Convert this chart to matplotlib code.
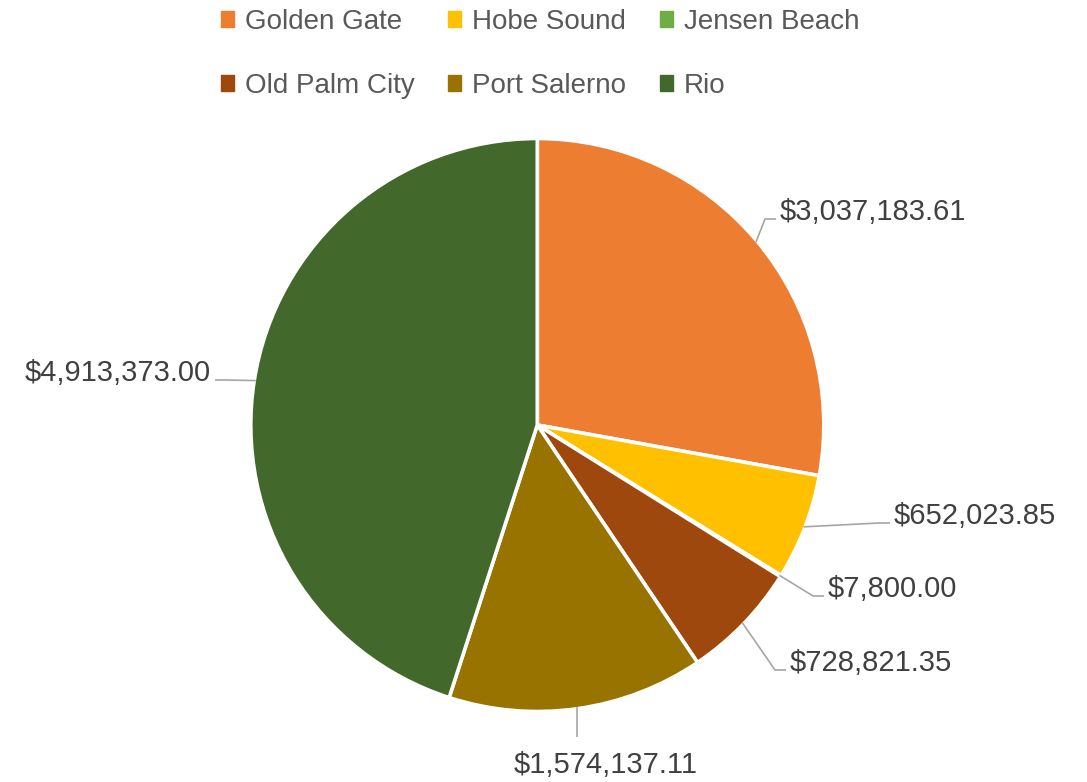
import matplotlib
matplotlib.use("Agg")
import matplotlib.pyplot as plt
from matplotlib.patches import Patch
import numpy as np

# ---- data ----
categories = ["Golden Gate", "Hobe Sound", "Jensen Beach", "Old Palm City", "Port Salerno", "Rio"]
values = [3037183.61, 652023.85, 7800.00, 728821.35, 1574137.11, 4913373.00]
colors = ["#ED7D31", "#FFC000", "#70AD47", "#9E480E", "#997300", "#43682B"]

# ---- layout (pixel coords, origin top-left) ----
W, H = 1087, 782
cx, cy, R = 537.3, 425.0, 286.5
# label anchor: (x, baseline y, horizontal alignment)
label_layout = [
    (780, 220, "left"),
    (894, 524, "left"),
    (828, 597, "left"),
    (790, 671, "left"),
    (606, 773, "center"),
    (211, 381, "right"),
]

plt.rcParams["font.family"] = ["Liberation Sans", "DejaVu Sans"]

fig = plt.figure(figsize=(W / 100, H / 100), dpi=100)
ax = fig.add_axes([0, 0, 1, 1])

wedges, _ = ax.pie(values, colors=colors, startangle=90, counterclock=False,
                   center=(cx, H - cy), radius=R,
                   wedgeprops=dict(edgecolor="white", linewidth=2.6))
ax.set_xlim(0, W)
ax.set_ylim(0, H)
ax.set_aspect("equal")
ax.axis("off")

lead_col = "#A6A6A6"
txt_col = "#404040"
for w, v, (tx, ty, ha) in zip(wedges, values, label_layout):
    mid = np.deg2rad((w.theta1 + w.theta2) / 2)
    sx = cx + (R - 1.5) * np.cos(mid)
    sy = (H - cy) + (R - 1.5) * np.sin(mid)
    Y = H - ty
    if ha == "left":
        ex, ey = tx - 4, Y + 1
        kx, ky = ex - 11, ey
    elif ha == "right":
        ex, ey = tx + 4, Y + 1
        kx, ky = ex + 11, ey
    else:
        ex, ey = sx, Y + 36
        kx, ky = ex, ey
    ax.plot([sx, kx, ex], [sy, ky, ey], color=lead_col, lw=1.2, solid_capstyle="butt")
    ax.text(tx, Y, f"${v:,.2f}", ha=ha, va="baseline", fontsize=21, color=txt_col)

# legend: row-major order (matplotlib fills columns first)
ncol = 3
nrow = int(np.ceil(len(categories) / ncol))
order = [r * ncol + c for c in range(ncol) for r in range(nrow)]
handles = [Patch(facecolor=colors[i], edgecolor=colors[i]) for i in order]
labels = [categories[i] for i in order]
leg = fig.legend(handles, labels, ncol=ncol, loc="upper center",
                 bbox_to_anchor=(0.497, 1.003), frameon=False, fontsize=20,
                 handlelength=0.47, handleheight=0.47, handletextpad=0.4,
                 columnspacing=1.2, labelspacing=1.37, borderaxespad=0)
for t in leg.get_texts():
    t.set_color("#595959")

fig.savefig("out.png", dpi=100, facecolor="white")
